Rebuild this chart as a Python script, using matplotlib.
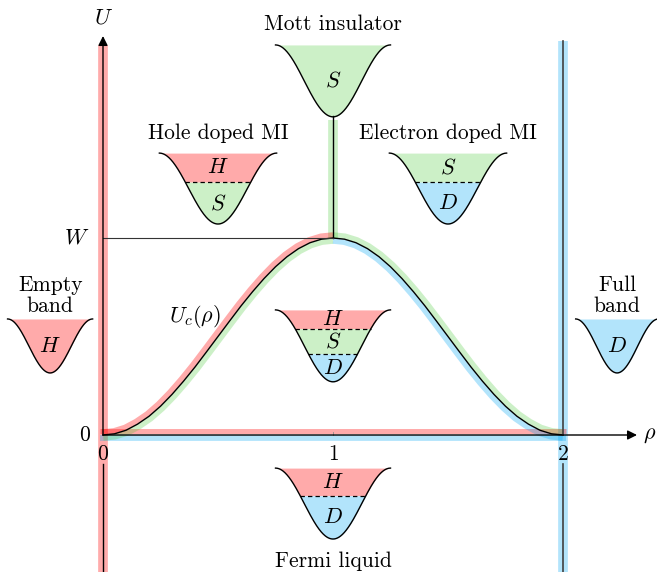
import numpy as np
import matplotlib.pyplot as plt

plt.rcParams['font.family'] = 'cmr10'
plt.rcParams['mathtext.fontset'] = 'cm'
plt.rcParams['axes.unicode_minus'] = False

# critical interaction U_c(rho) in units of W
rho = [0.00, 0.05, 0.10, 0.15, 0.20, 0.25, 0.30, 0.35, 0.40, 0.45, 0.50,
       0.55, 0.60, 0.65, 0.70, 0.75, 0.80, 0.85, 0.90, 0.95, 1.00,
       1.05, 1.10, 1.15, 1.20, 1.25, 1.30, 1.35, 1.40, 1.45, 1.50,
       1.55, 1.60, 1.65, 1.70, 1.75, 1.80, 1.85, 1.90, 1.95, 2.00]
u_c = [0.000, 0.006, 0.024, 0.055, 0.095, 0.146, 0.206, 0.273, 0.345, 0.422, 0.500,
       0.578, 0.655, 0.727, 0.794, 0.854, 0.905, 0.946, 0.976, 0.994, 1.000,
       0.994, 0.976, 0.946, 0.905, 0.854, 0.794, 0.727, 0.655, 0.578, 0.500,
       0.422, 0.345, 0.273, 0.206, 0.146, 0.095, 0.055, 0.024, 0.006, 0.000]

rho_ticks = [0, 1, 2]
rho_tick_labels = ['0', '1', '2']

# band-filling sketches: titles, layers (top to bottom) and dashed cut depths
well_titles = ['Mott insulator', 'Hole doped MI', 'Electron doped MI', '',
               'Fermi liquid', 'Empty\nband', 'Full\nband']
well_layers = [['S'], ['H', 'S'], ['S', 'D'], ['H', 'S', 'D'], ['H', 'D'], ['H'], ['D']]
well_cuts = [[], [0.41], [0.41], [0.26, 0.61], [0.39], [], []]

# layout of the sketches (rho, top U, width, depth) and their titles
well_rho = [1.0, 0.5, 1.5, 1.0, 1.0, -0.23, 2.235]
well_top = [1.98, 1.431, 1.431, 0.635, -0.168, 0.589, 0.589]
well_w = [0.50, 0.51, 0.51, 0.50, 0.50, 0.37, 0.36]
well_d = [0.365, 0.36, 0.36, 0.365, 0.36, 0.274, 0.274]
title_xy = [(1.0, 2.086), (0.5, 1.533), (1.5, 1.533), (1.0, 0.0),
            (1.0, -0.64), (-0.23, 0.708), (2.235, 0.708)]

# pixel geometry of the picture
X0, Y0, SX, SY = 103, 435, 230, 197
WPX, HPX = 657, 572

RED_BAND = (1.0, 0.0, 0.0, 0.33)
GREEN_BAND = (0.24, 0.78, 0.16, 0.26)
BLUE_BAND = (0.0, 0.65, 0.96, 0.30)
FILL = {'H': '#ffaaaa', 'S': '#ccf0c7', 'D': '#b2e4fb'}
FS = 15.5
FM = 16

fig = plt.figure(figsize=(WPX / 100, HPX / 100), dpi=100)
ax = fig.add_axes([0, 0, 1, 1])
ax.set_xlim(-X0 / SX, (WPX - X0) / SX)
ax.set_ylim((Y0 - HPX) / SY, Y0 / SY)
ax.axis('off')
ymin = (Y0 - HPX) / SY

# coloured bands on the phase boundaries
ax.plot([0, 0], [ymin, 1.98], color=RED_BAND, lw=7, solid_capstyle='butt', zorder=1)
ax.plot([2, 2], [ymin, 2.0], color=BLUE_BAND, lw=7, solid_capstyle='butt', zorder=1)
ax.plot([-0.015, 2.015], [0.018, 0.018], color=RED_BAND, lw=3.6, solid_capstyle='butt', zorder=1)
ax.plot([-0.015, 2.015], [-0.014, -0.014], color=BLUE_BAND, lw=4.2, solid_capstyle='butt', zorder=1)
ax.plot([1, 1], [1.0, 1.6], color=GREEN_BAND, lw=7, solid_capstyle='butt', zorder=1)

# bands hugging U_c(rho), offset along the normal in pixel space
r = np.array(rho)
u = np.array(u_c)
px, py = r * SX, u * SY
tx, ty = np.gradient(px), np.gradient(py)
nrm = np.hypot(tx, ty)
nx, ny = -ty / nrm, tx / nrm
off = 3.0
left = r <= 1.0
right = r >= 1.0
for mask, sgn, col in [(left, 1, RED_BAND), (left, -1, GREEN_BAND),
                       (right, 1, GREEN_BAND), (right, -1, BLUE_BAND)]:
    ax.plot(r[mask] + sgn * off * nx[mask] / SX, u[mask] + sgn * off * ny[mask] / SY,
            color=col, lw=4, solid_capstyle='butt', zorder=1)

# axes, curve and guide lines
ax.plot(r, u, color='k', lw=1.0, zorder=3)
ax.plot([0, 0], [-0.147, ymin], color='k', lw=1.0, zorder=3)
ax.plot([2, 2], [0.0, 2.0], color='#404040', lw=1.2, zorder=3)
ax.plot([2, 2], [-0.147, ymin], color='#404040', lw=1.2, zorder=3)
ax.plot([1, 1], [1.0, 1.62], color='k', lw=1.0, zorder=3)
ax.plot([0, 1], [1.0, 1.0], color='#333333', lw=0.8, zorder=3)
ax.plot([1, 1], [0.0, 0.015], color='0.55', lw=0.6, zorder=3)
arrow = dict(arrowstyle='-|>', color='k', lw=1.0, mutation_scale=14, shrinkA=0, shrinkB=0)
ax.annotate('', xy=(0, (Y0 - 36) / SY), xytext=(0, 0), arrowprops=arrow, zorder=3)
ax.annotate('', xy=((637 - X0) / SX, 0), xytext=(0, 0), arrowprops=arrow, zorder=3)

ax.text(0, 2.117, '$U$', fontsize=FM, ha='center', va='center')
ax.text(2.378, 0.0, r'$\rho$', fontsize=FM, ha='center', va='center')
ax.text(-0.115, 1.0, '$W$', fontsize=FM, ha='center', va='center')
ax.text(-0.078, 0.0, '0', fontsize=FS, ha='center', va='center')
for t, lab in zip(rho_ticks, rho_tick_labels):
    ax.text(t, -0.098, lab, fontsize=FS, ha='center', va='center')
ax.text(0.4, 0.6, r'$U_c(\rho)$', fontsize=FM, ha='center', va='center')

# band sketches
t = np.linspace(-1, 1, 300)
for i in range(len(well_layers)):
    cx, top, w, d = well_rho[i], well_top[i], well_w[i], well_d[i]
    x = cx + t * w / 2
    y = top - d * (1 + np.cos(np.pi * t)) / 2
    levels = [top] + [top - c * d for c in well_cuts[i]] + [top - d]
    for k, name in enumerate(well_layers[i]):
        hi, lo = levels[k], levels[k + 1]
        ax.fill_between(x, np.clip(y, lo, hi), hi, color=FILL[name], lw=0, zorder=2)
        ax.text(cx, (hi + lo) / 2, '$%s$' % name, fontsize=FM, ha='center', va='center', zorder=4)
    for c in well_cuts[i]:
        tc = np.arccos(2 * c - 1) / np.pi
        ax.plot([cx - tc * w / 2, cx + tc * w / 2], [top - c * d] * 2, color='k', lw=0.9,
                ls=(0, (3.5, 2.5)), zorder=3)
    ax.plot(x, y, color='k', lw=1.0, zorder=3)
    if well_titles[i]:
        tx_, ty_ = title_xy[i]
        ax.text(tx_, ty_, well_titles[i], fontsize=FS, ha='center', va='center',
                linespacing=1.1, zorder=4)

plt.savefig('out.png', dpi=100)
